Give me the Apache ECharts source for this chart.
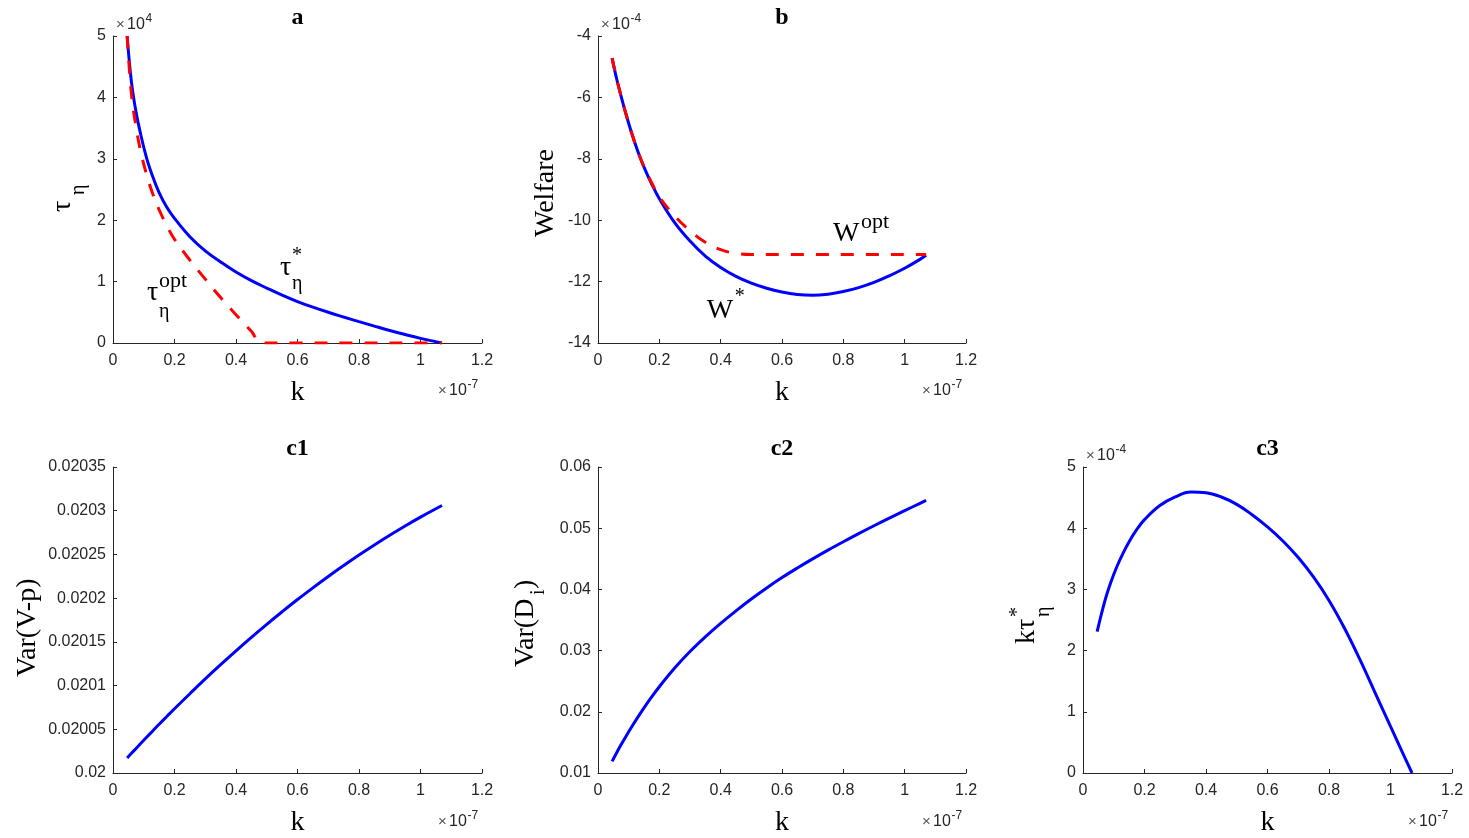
<!DOCTYPE html>
<html>
<head>
<meta charset="utf-8">
<script src="https://cdn.jsdelivr.net/npm/echarts@6.0.0/dist/echarts.min.js"></script>
<style>
  html, body { margin: 0; padding: 0; background: #fff; }
  #main { width: 1469px; height: 838px; }
</style>
</head>
<body>
<div id="main"></div>
<script>
// k in units of 1e-7
var kVals = [0.046, 0.06, 0.075, 0.09, 0.11, 0.13, 0.15, 0.175, 0.2, 0.25, 0.3,
             0.35, 0.4, 0.45, 0.5, 0.55, 0.6, 0.65, 0.7, 0.75, 0.8, 0.85, 0.9,
             0.95, 1.0, 1.05, 1.07];

// panel a, tau_eta in units of 1e4
var tauStar = [5.0, 4.25, 3.76, 3.40, 3.0, 2.70, 2.45, 2.21, 2.03, 1.73, 1.50,
               1.32, 1.155, 1.015, 0.895, 0.78, 0.675, 0.583, 0.50, 0.423, 0.348, 0.275, 0.204,
               0.138, 0.075, 0.021, 0.0];
// tau_opt hits zero at k = 0.483, so it gets its own k list
var tauOptK = [0.046, 0.06, 0.075, 0.09, 0.11, 0.13, 0.15, 0.175, 0.2, 0.25, 0.3,
               0.35, 0.4, 0.45, 0.483, 0.6, 0.8, 1.0, 1.07];
var tauOpt = [5.0, 4.05, 3.52, 3.12, 2.73, 2.42, 2.17, 1.91, 1.69, 1.35, 1.04,
              0.74, 0.46, 0.19, 0.0, 0.0, 0.0, 0.0, 0.0];

// panel b, welfare in units of 1e-4
var wStar = [-4.72, -5.36, -5.95, -6.50, -7.17, -7.76, -8.27, -8.82, -9.30, -10.08, -10.68,
             -11.17, -11.54, -11.83, -12.05, -12.215, -12.34, -12.42, -12.445, -12.41, -12.325, -12.195, -12.025,
             -11.81, -11.565, -11.275, -11.145];
var wOpt = [-4.72, -5.36, -5.95, -6.50, -7.17, -7.76, -8.26, -8.78, -9.24, -9.86, -10.34,
            -10.72, -10.96, -11.08, -11.12, -11.12, -11.12, -11.12, -11.12, -11.12, -11.12, -11.12, -11.12,
            -11.12, -11.12, -11.12, -11.12];

// panel c1, Var(V-p)
var varVP = [0.0200172, 0.0200225, 0.0200281, 0.0200337, 0.0200411, 0.0200484, 0.0200557,
             0.0200646, 0.0200735, 0.0200907, 0.0201076, 0.0201239, 0.0201397, 0.0201551,
             0.02017, 0.0201844, 0.0201984, 0.0202118, 0.0202248, 0.0202373, 0.0202494,
             0.0202609, 0.020272, 0.0202826, 0.0202927, 0.0203023, 0.020306];

// panel c2, Var(D_i)
var varD = [0.0119, 0.01323, 0.0146, 0.0159, 0.01756, 0.01914, 0.02064, 0.02242, 0.0241, 0.02715, 0.02985,
            0.03225, 0.03445, 0.0365, 0.03843, 0.04023, 0.04193, 0.0435, 0.04499, 0.04642, 0.04779,
            0.04912, 0.0504, 0.05165, 0.05287, 0.05406, 0.05453];

// panel c3, k*tau_eta^* in units of 1e-4
var kTau = [2.31, 2.60, 2.88, 3.11, 3.37, 3.59, 3.78, 3.98, 4.14, 4.37, 4.51,
            4.59, 4.58, 4.51, 4.39, 4.22, 4.02, 3.79, 3.52, 3.20, 2.82, 2.37, 1.86,
            1.31, 0.76, 0.215, 0.0];

var SERIF = '"Liberation Serif", "Times New Roman", serif';
var SANS = '"Liberation Sans", Arial, sans-serif';
var INK = '#262626';

var grids = [
    { left: 113, top: 36, width: 369, height: 307 },
    { left: 598, top: 36, width: 368, height: 307 },
    { left: 113, top: 467, width: 369, height: 307 },
    { left: 598, top: 467, width: 368, height: 307 },
    { left: 1083, top: 467, width: 369, height: 307 }
];

function trim(v, d) {
    return String(parseFloat(v.toFixed(d)));
}

function xAxisFor(i) {
    return {
        type: "value", gridIndex: i, min: 0, max: 1.2, interval: 0.2,
        axisLine: { show: true, onZero: false, lineStyle: { color: INK, width: 1 } },
        axisTick: { show: true, inside: true, length: 4, lineStyle: { color: INK } },
        axisLabel: { color: INK, fontSize: 16, fontFamily: SANS, margin: 10,
                     formatter: function (v) { return trim(v, 2); } },
        splitLine: { show: false },
        name: "k", nameLocation: "middle", nameGap: 36,
        nameTextStyle: { fontFamily: SERIF, fontSize: 28, color: "#000" }
    };
}

function yAxisFor(i, min, max, step, digits) {
    return {
        type: "value", gridIndex: i, min: min, max: max, interval: step,
        axisLine: { show: true, onZero: false, lineStyle: { color: INK, width: 1 } },
        axisTick: { show: true, inside: true, length: 4, lineStyle: { color: INK } },
        axisLabel: { color: INK, fontSize: 16, fontFamily: SANS, margin: 7,
                     formatter: function (v) { return trim(v, digits); } },
        splitLine: { show: false }
    };
}

function lineSeries(i, ks, vals, dashed) {
    return {
        type: "line", xAxisIndex: i, yAxisIndex: i,
        data: ks.map(function (k, j) { return [k, vals[j]]; }),
        showSymbol: false, smooth: 0.4, silent: true,
        lineStyle: dashed
            ? { color: "#ff0000", width: 3, type: [13, 12] }
            : { color: "#0000ff", width: 3 },
        itemStyle: { color: dashed ? "#ff0000" : "#0000ff" }
    };
}

var myChart = echarts.init(document.getElementById("main"));

var option = {
    animation: false,
    backgroundColor: "#fff",
    grid: grids,
    xAxis: [0, 1, 2, 3, 4].map(xAxisFor),
    yAxis: [
        yAxisFor(0, 0, 5, 1, 2),
        yAxisFor(1, -14, -4, 2, 2),
        yAxisFor(2, 0.02, 0.02035, 0.00005, 6),
        yAxisFor(3, 0.01, 0.06, 0.01, 4),
        yAxisFor(4, 0, 5, 1, 2)
    ],
    series: [
        lineSeries(0, kVals, tauStar, false),
        lineSeries(0, tauOptK, tauOpt, true),
        lineSeries(1, kVals, wStar, false),
        lineSeries(1, kVals, wOpt, true),
        lineSeries(2, kVals, varVP, false),
        lineSeries(3, kVals, varD, false),
        lineSeries(4, kVals, kTau, false)
    ]
};
myChart.setOption(option);

// text pieces: [text, dx, dy(baseline shift), size, font, weight, colour]
function piece(p, align) {
    var size = p[3];
    var font = (p[5] || "") + " " + size + "px " + (p[4] || SERIF);
    return {
        type: "text", x: p[1], y: p[2] - 0.32 * size, silent: true,
        style: { text: p[0], font: font, fill: p[6] || "#000",
                 textAlign: align || "left", textVerticalAlign: "middle" }
    };
}

function textGroup(x, y, rot, parts, align) {
    return {
        type: "group", x: x, y: y, rotation: rot || 0, silent: true,
        children: parts.map(function (p) { return piece(p, align); })
    };
}

function atData(gi, k, v) {
    return myChart.convertToPixel({ gridIndex: gi }, [k, v]);
}

// x10^n exponent labels
function expParts(sup) {
    return [
        ["×", 0, 0, 15, SANS, "", "#555"],
        ["10", 11, 0, 16, SANS, "", INK],
        [sup, 29.5, -7, 12, SANS, "", INK]
    ];
}
function yExp(gi, sup) {
    var g = grids[gi];
    return textGroup(g.left + 3, g.top - 6, 0, expParts(sup));
}
function xExp(gi) {
    var g = grids[gi];
    return textGroup(g.left + g.width - 44, g.top + g.height + 53, 0, expParts("-7"));
}

var UP = Math.PI / 2;
var graphics = [];

// titles
[["a", 0, 25], ["b", 1, 25], ["c1", 2, 456], ["c2", 3, 456], ["c3", 4, 456]].forEach(function (t) {
    var g = grids[t[1]];
    graphics.push(textGroup(g.left + g.width / 2, t[2], 0, [[t[0], 0, 0, 24, SERIF, "bold"]], "center"));
});

// exponents
graphics.push(yExp(0, "4"), yExp(1, "-4"), yExp(4, "-4"));
[0, 1, 2, 3, 4].forEach(function (i) { graphics.push(xExp(i)); });

// y-axis titles
graphics.push(textGroup(72, 212, UP, [["τ", 0, 0, 28], ["η", 17, 13, 20]]));
graphics.push(textGroup(555, 237, UP, [["Welfare", 0, 0, 28]]));
graphics.push(textGroup(37, 677, UP, [["Var(V-p)", 0, 0, 28]]));
graphics.push(textGroup(535, 667, UP, [["Var(D", 0, 0, 28], ["i", 72, 10, 20], [")", 78, 0, 28]]));
graphics.push(textGroup(1036, 644, UP, [["kτ", 0, 0, 28], ["*", 27, -12, 20], ["η", 27, 14, 20]]));

// curve annotations
var p;
p = atData(0, 0.543, 1.075);
graphics.push(textGroup(p[0], p[1], 0, [["τ", 0, 0, 28], ["*", 12, -15, 20], ["η", 12, 13, 20]]));
p = atData(0, 0.1106, 0.668);
graphics.push(textGroup(p[0], p[1], 0, [["τ", 0, 0, 28], ["opt", 12, -14, 22], ["η", 12, 16, 20]]));
p = atData(1, 0.766, -10.74);
graphics.push(textGroup(p[0], p[1], 0, [["W", 0, 0, 28], ["opt", 28, -14, 22]]));
p = atData(1, 0.355, -13.25);
graphics.push(textGroup(p[0], p[1], 0, [["W", 0, 0, 28], ["*", 28, -17, 20]]));

myChart.setOption({ graphic: graphics });
</script>
</body>
</html>
